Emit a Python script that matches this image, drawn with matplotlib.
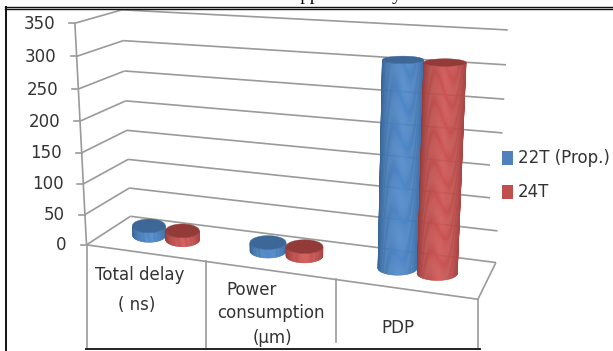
import numpy as np
import matplotlib
matplotlib.use("Agg")
import matplotlib.pyplot as plt
from matplotlib.colors import to_rgb
from matplotlib.patches import Polygon, Rectangle

# Chart data
categories = ["Total delay\n( ns)", "Power\nconsumption\n(µm)", "PDP"]
series_names = ["22T (Prop.)", "24T"]
values_22t = [16, 14, 312]
values_24t = [15, 15, 312]
y_ticks = [0, 50, 100, 150, 200, 250, 300, 350]

W, H = 613, 351
fig = plt.figure(figsize=(W / 100, H / 100), dpi=100, facecolor="white")
ax = fig.add_axes([0, 0, 1, 1])
ax.set_xlim(0, W)
ax.set_ylim(H, 0)
ax.axis("off")

# Camera calibration: (category pos, depth, value) -> canvas position
world = np.array([
    (0, 0, 0), (0, 1, 0), (3, 1, 0), (3, 0, 0), (1, 0, 0), (2, 0, 0),
    (0, 0, 350), (0, 1, 350), (3, 1, 350), (0, 0, 150), (0, 1, 150), (3, 1, 150),
], float)
canvas = np.array([
    (87, 245), (130, 217), (496, 262), (478, 300), (205, 262), (335, 279),
    (74, 23), (122, 10), (508, 31), (83, 152), (127, 130), (501, 165),
], float)
rows = []
for (a, b, c), (px, py) in zip(world, canvas):
    c = c / 350
    rows.append([a, b, c, 1, 0, 0, 0, 0, -px * a, -px * b, -px * c, -px])
    rows.append([0, 0, 0, 0, a, b, c, 1, -py * a, -py * b, -py * c, -py])
CAM = np.linalg.svd(np.array(rows))[2][-1].reshape(3, 4)


def project(u, v, h):
    u, v, h = np.broadcast_arrays(np.asarray(u, float), np.asarray(v, float), np.asarray(h, float))
    p = CAM @ np.stack([u, v, h / 350, np.ones_like(u)])
    return p[0] / p[2], p[1] / p[2]


GRID = "#9a9a9a"
LABEL = "#333333"
FONT = "DejaVu Sans"
TEXT_SIZE = 12


def seg(a, b):
    xa, ya = project(*a)
    xb, yb = project(*b)
    ax.plot([xa, xb], [ya, yb], color=GRID, lw=1.2, zorder=1, solid_capstyle="butt")


# Walls, floor and value axis
for t in y_ticks:
    seg((0, 0, t), (0, 1, t))
    seg((0, 1, t), (3, 1, t))
    x0, y0 = project(0, 0, t)
    ax.plot([x0 - 6, x0], [y0, y0], color=GRID, lw=1.2, zorder=1)
    ax.text(x0 - 20, y0 + 0.5, str(t), ha="right", va="center", fontsize=TEXT_SIZE,
            family=FONT, color=LABEL)
seg((0, 0, 0), (0, 0, 350))
seg((0, 0, 0), (3, 0, 0))
seg((3, 0, 0), (3, 1, 0))

# Category table under the floor
BOTTOM = 349
for i in range(4):
    x0, y0 = project(i, 0, 0)
    end = 342 if i == 2 else BOTTOM
    ax.plot([x0, x0], [y0, end], color=GRID, lw=1.2, zorder=1)
ax.plot([86, 480], [BOTTOM, BOTTOM], color="#222222", lw=1.4, zorder=2)

cat_lines = [
    [("Total delay", 140, 275), ("( ns)", 137, 305)],
    [("Power", 252, 290), ("consumption", 271, 313), ("(µm)", 272, 338)],
    [("PDP", 398, 328)],
]
for lines in cat_lines:
    for text, x, y in lines:
        ax.text(x, y, text, ha="center", va="center", fontsize=TEXT_SIZE, family=FONT, color=LABEL)

# Legend clears the gridline ends behind it
ax.add_patch(Rectangle((490, 140), 123, 66, fc="white", ec="none", zorder=2))


def cap_shape(u, value, radius=0.145):
    # Level ellipse on screen, flattening with height as the camera looks down less
    xc, yc = project(u, 0.5, value)
    xl, _ = project(u - radius, 0.5, value)
    xr, _ = project(u + radius, 0.5, value)
    _, y_front = project(u, 0, value)
    _, y_back = project(u, 1, value)
    _, y_front0 = project(u, 0, 0)
    _, y_back0 = project(u, 1, 0)
    half_h = 7.0 * (y_front - y_back) / (y_front0 - y_back0)
    return float(xc), float(yc), float(xr - xl) / 2, float(half_h)


def cylinder(u, value, light, dark, top_col, z):
    bx0, by0, bw, bh = cap_shape(u, 0)
    tx0, ty0, tw, th = cap_shape(u, value)
    light, dark = np.array(to_rgb(light)), np.array(to_rgb(dark))
    # Body as thin strips, lit a little right of centre
    ts = np.linspace(np.pi, 2 * np.pi, 61)
    bx = bx0 + bw * np.cos(ts)
    by = by0 - bh * np.sin(ts)
    tx = tx0 + tw * np.cos(ts)
    ty = ty0 - th * np.sin(ts)
    for k in range(len(ts) - 1):
        f = (bx[k] + bx[k + 1] - 2 * bx0) / (4 * bw) + 0.5
        s = np.clip(1 - abs(f - 0.55) / 0.55, 0, 1) ** 0.45
        col = dark + (light - dark) * s
        ax.add_patch(Polygon([(bx[k], by[k]), (bx[k + 1], by[k + 1]), (tx[k + 1], ty[k + 1]), (tx[k], ty[k])],
                             closed=True, fc=col, ec=col, lw=0.3, zorder=z, snap=False))
    # Top cap
    tt = np.linspace(0, 2 * np.pi, 73)
    ax.add_patch(Polygon(np.c_[tx0 + tw * np.cos(tt), ty0 + th * np.sin(tt)], closed=True,
                         fc=top_col, ec=top_col, lw=0.3, zorder=z + 0.5, snap=False))


centres = [0.5, 1.5, 2.5]
offset = 0.145
for i, c in enumerate(centres):
    cylinder(c - offset, values_22t[i], "#5089cb", "#34608f", "#3c6796", 3 + i)
    cylinder(c + offset, values_24t[i], "#cf5654", "#8f3a38", "#933b39", 3.7 + i)

# Legend
legend_colors = ["#4f81bd", "#c0504d"]
for name, col, y in zip(series_names, legend_colors, [158, 192]):
    ax.add_patch(Rectangle((502, y - 7), 10.5, 14, fc=col, ec="none", zorder=7))
    ax.text(518, y, name, ha="left", va="center", fontsize=TEXT_SIZE, family=FONT, color=LABEL, zorder=7)

# Frame lines and the sentence above it, cut by the figure edge
ax.plot([5.5, 5.5], [7, H], color="#111111", lw=1.4, zorder=8)
ax.plot([5, W], [7, 7], color="#111111", lw=1.0, zorder=8)
ax.plot([5, W], [9, 9], color="#111111", lw=1.0, zorder=8)
ax.text(292, 0.5, "approximately", ha="left", va="baseline", fontsize=13.7,
        family="Liberation Serif", color="black", clip_on=True)

fig.savefig("out.png", dpi=100)
